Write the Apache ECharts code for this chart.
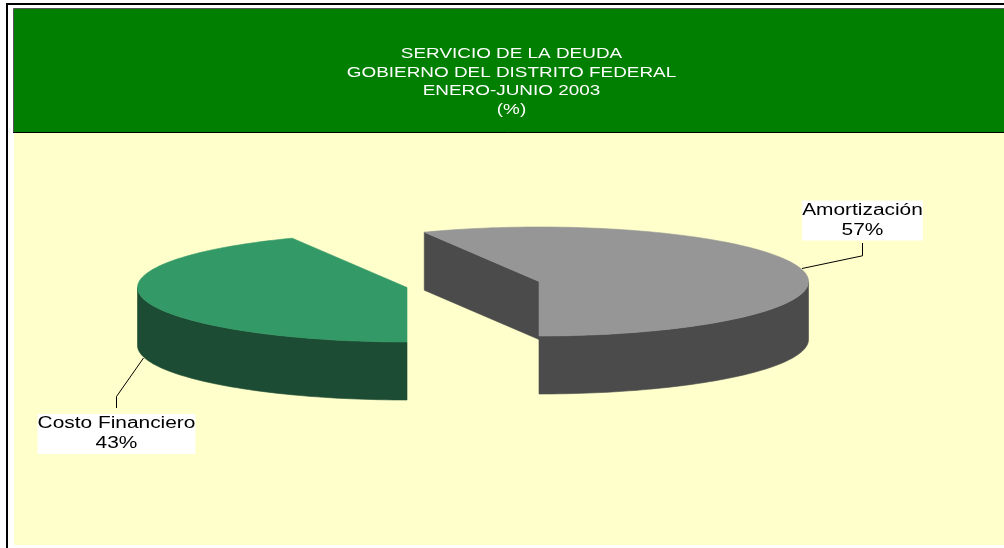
<!DOCTYPE html>
<html>
<head>
<meta charset="utf-8">
<style>html,body{margin:0;padding:0;background:#fff}#c{width:1004px;height:548px}</style>
<script src="https://cdn.jsdelivr.net/npm/echarts@6/dist/echarts.min.js"></script>
</head>
<body>
<div id="c"></div>
<script>
const categories = ['Amortización', 'Costo Financiero'];
const values = [57, 43];
const titleLines = ['SERVICIO DE LA DEUDA', 'GOBIERNO DEL DISTRITO FEDERAL', 'ENERO-JUNIO 2003', '(%)'];
const topColors = ['#969696', '#339966'];
const sideColors = ['#4b4b4b', '#1c4c33'];

const RX = 269.5, RY = 54.5, DEPTH = 58;
const centers = [[539, 281.5], [407, 287.5]];
const total = values.reduce((a, b) => a + b, 0);

function pt(c, deg, dy) {
  const a = deg * Math.PI / 180;
  return [c[0] + RX * Math.sin(a), c[1] + RY * Math.cos(a) + (dy || 0)];
}
function arc(c, from, to, dy) {
  const n = Math.max(2, Math.ceil(Math.abs(to - from) / 1.5));
  const out = [];
  for (let i = 0; i <= n; i++) out.push(pt(c, from + (to - from) * i / n, dy));
  return out;
}
function poly(points, fill, z) {
  return {
    type: 'polygon', z2: z,
    shape: { points: points },
    style: { fill: fill, stroke: fill, lineWidth: 0.6 }
  };
}

function renderItem(params, api) {
  const i = params.dataIndex;
  const sweep = api.value(1) / total * 360;
  const c = centers[i];
  const top = topColors[i], side = sideColors[i];
  const kids = [];
  if (i === 0) {
    const e = pt(c, sweep);
    kids.push(poly([e, c, [c[0], c[1] + DEPTH], [e[0], e[1] + DEPTH]], side, 1));
    kids.push(poly(arc(c, 0, 90).concat(arc(c, 90, 0, DEPTH)), side, 2));
    kids.push(poly([c].concat(arc(c, 0, sweep)), top, 3));
  } else {
    kids.push(poly(arc(c, 0, -90).concat(arc(c, -90, 0, DEPTH)), side, 2));
    kids.push(poly([c].concat(arc(c, 0, -sweep)), top, 3));
  }
  return { type: 'group', children: kids };
}

const chart = echarts.init(document.getElementById('c'), null, { renderer: 'canvas' });
const F = '"Liberation Sans", Arial, sans-serif';

chart.setOption({
  animation: false,
  backgroundColor: '#ffffff',
  xAxis: { type: 'value', show: false, min: 0, max: 100 },
  yAxis: { type: 'value', show: false, min: 0, max: 100 },
  grid: { left: 0, right: 0, top: 0, bottom: 0 },
  graphic: [
    { type: 'rect', z: -10, shape: { x: 7, y: 4, width: 1100, height: 600 },
      style: { fill: '#ffffff', stroke: '#000000', lineWidth: 2 }, silent: true },
    { type: 'rect', z: -9, shape: { x: 14, y: 133, width: 990, height: 412 },
      style: { fill: '#ffffcc' }, silent: true },
    { type: 'rect', z: -8, shape: { x: 13.5, y: 8.5, width: 1000, height: 124 },
      style: { fill: '#007f00', stroke: '#555555', lineWidth: 1 }, silent: true },
    { type: 'line', z: -7, shape: { x1: 13, y1: 132.5, x2: 1004, y2: 132.5 },
      style: { stroke: '#000000', lineWidth: 1 }, silent: true },
    { type: 'text', z: 6, x: 511.5, y: 44.5, scaleX: 1.26, silent: true,
      style: { text: titleLines.join('\n'), align: 'center', verticalAlign: 'top',
        font: '15px ' + F, fill: '#ffffff', lineHeight: 18.7 } },
    { type: 'polyline', z: 5, shape: { points: [[802, 268.5], [862.5, 255.8], [862.5, 243]] },
      style: { stroke: '#000000', fill: 'none', lineWidth: 1 }, silent: true },
    { type: 'polyline', z: 5, shape: { points: [[143.5, 358], [116.5, 396.5], [116.5, 408]] },
      style: { stroke: '#000000', fill: 'none', lineWidth: 1 }, silent: true },
    { type: 'text', z: 6, x: 862.5, y: 200.5, scaleX: 1.305, silent: true,
      style: { text: categories[0] + '\n' + values[0] + '%', align: 'center', verticalAlign: 'top',
        font: '16px ' + F, fill: '#000', lineHeight: 20, backgroundColor: '#fff' } },
    { type: 'text', z: 6, x: 116.5, y: 414, scaleX: 1.305, silent: true,
      style: { text: categories[1] + '\n' + values[1] + '%', align: 'center', verticalAlign: 'top',
        font: '16px ' + F, fill: '#000', lineHeight: 20, backgroundColor: '#fff' } }
  ],
  series: [{
    type: 'custom',
    coordinateSystem: 'none',
    renderItem: renderItem,
    silent: true,
    z: 2,
    data: categories.map((n, i) => ({ name: n, value: [i, values[i]] }))
  }]
});
</script>
</body>
</html>
